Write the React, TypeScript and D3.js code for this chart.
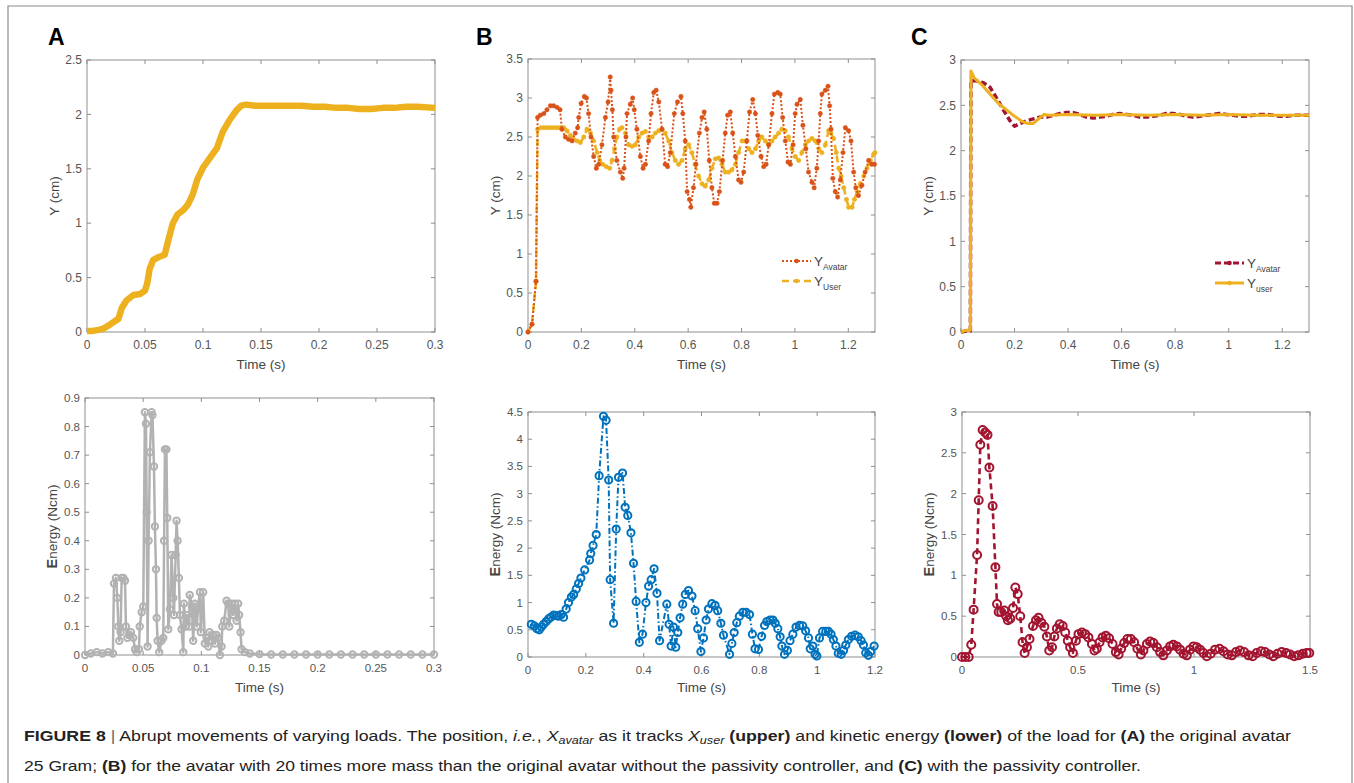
import { useEffect, useRef } from 'react';
import * as d3 from 'd3';

type Pt = [number, number];

// ---- Panel A (original avatar, 25 g) ----
const aPosition: Pt[] = [
  [0, 0.01], [0.005, 0.01], [0.01, 0.02], [0.014, 0.03], [0.02, 0.07], [0.024, 0.1], [0.027, 0.12],
  [0.03, 0.22], [0.034, 0.29], [0.04, 0.34], [0.046, 0.35], [0.05, 0.38], [0.052, 0.45], [0.054, 0.58],
  [0.057, 0.66], [0.062, 0.69], [0.067, 0.71], [0.07, 0.84], [0.074, 1.0], [0.078, 1.08], [0.083, 1.12],
  [0.087, 1.17], [0.091, 1.26], [0.095, 1.4], [0.1, 1.51], [0.106, 1.6], [0.112, 1.69], [0.117, 1.84],
  [0.123, 1.95], [0.129, 2.04], [0.133, 2.08], [0.137, 2.09], [0.145, 2.08], [0.155, 2.08], [0.165, 2.08],
  [0.175, 2.08], [0.185, 2.08], [0.195, 2.07], [0.205, 2.07], [0.215, 2.06], [0.225, 2.06], [0.235, 2.05],
  [0.245, 2.05], [0.255, 2.06], [0.265, 2.06], [0.275, 2.07], [0.285, 2.07], [0.3, 2.06],
];

const aEnergy: Pt[] = [
  [0, 0], [0.005, 0.005], [0.01, 0.01], [0.015, 0.005], [0.02, 0.01], [0.024, 0.005],
  [0.0249, 0.25], [0.0266, 0.27], [0.0278, 0.2], [0.0287, 0.1], [0.0295, 0.05], [0.0306, 0.08],
  [0.0315, 0.27], [0.033, 0.27], [0.0344, 0.26], [0.0352, 0.1], [0.0364, 0.06], [0.038, 0.07],
  [0.0395, 0.08], [0.0415, 0.06], [0.043, 0.02], [0.0444, 0.01], [0.0464, 0.02], [0.047, 0.1],
  [0.0487, 0.15], [0.0501, 0.17], [0.0515, 0.85], [0.0524, 0.81], [0.053, 0.5], [0.0538, 0.03],
  [0.0547, 0.4], [0.0558, 0.71], [0.0573, 0.85], [0.058, 0.84], [0.0593, 0.66], [0.0601, 0.45],
  [0.061, 0.3], [0.0616, 0.13], [0.0624, 0.05], [0.0638, 0.01], [0.0658, 0.05], [0.0673, 0.06],
  [0.068, 0.4], [0.0687, 0.72], [0.07, 0.72], [0.0707, 0.48], [0.0716, 0.09], [0.073, 0.16],
  [0.0744, 0.35], [0.0759, 0.2], [0.0765, 0.14], [0.0779, 0.35], [0.0787, 0.47], [0.0796, 0.4],
  [0.0807, 0.27], [0.0816, 0.14], [0.083, 0.09], [0.0845, 0.01], [0.085, 0.18], [0.0865, 0.1],
  [0.0879, 0.14], [0.0896, 0.1], [0.09, 0.21], [0.0919, 0.17], [0.093, 0.05], [0.0945, 0.18],
  [0.096, 0.1], [0.0973, 0.17], [0.0988, 0.22], [0.0996, 0.08], [0.1016, 0.22], [0.103, 0.04],
  [0.1045, 0.06], [0.106, 0.03], [0.107, 0.08], [0.109, 0.05], [0.11, 0.07], [0.1117, 0.04],
  [0.113, 0.07], [0.1145, 0.06], [0.116, 0.0], [0.1174, 0.03], [0.118, 0.1], [0.1197, 0.12],
  [0.1217, 0.19], [0.1231, 0.18], [0.124, 0.1], [0.126, 0.18], [0.1274, 0.14], [0.1288, 0.18],
  [0.1303, 0.12], [0.1317, 0.18], [0.1325, 0.14], [0.1337, 0.08], [0.1346, 0.02], [0.1374, 0.01],
  [0.1417, 0.005], [0.15, 0.003], [0.16, 0.002], [0.17, 0.002], [0.18, 0.002], [0.19, 0.002],
  [0.2, 0.002], [0.21, 0.002], [0.22, 0.002], [0.23, 0.002], [0.24, 0.002], [0.25, 0.002],
  [0.26, 0.002], [0.27, 0.002], [0.28, 0.002], [0.29, 0.002], [0.3, 0.002],
];

// ---- Panel B (20x mass, no passivity controller) ----
const bAvatar: Pt[] = [
  [0, 0], [0.015, 0.1], [0.03, 0.65], [0.036, 2.75], [0.046, 2.78], [0.059, 2.8], [0.071, 2.85],
  [0.084, 2.9], [0.096, 2.9], [0.109, 2.88], [0.12, 2.85], [0.127, 2.6], [0.14, 2.5], [0.152, 2.47],
  [0.165, 2.45], [0.177, 2.55], [0.186, 2.62], [0.19, 2.75], [0.199, 2.93], [0.211, 3.02], [0.219, 3.0],
  [0.227, 2.8], [0.236, 2.5], [0.246, 2.25], [0.256, 2.1], [0.265, 2.15], [0.277, 2.4], [0.29, 2.75],
  [0.3, 2.95], [0.308, 3.27], [0.311, 3.1], [0.316, 2.85], [0.321, 2.5], [0.333, 2.2], [0.346, 2.05],
  [0.355, 1.97], [0.36, 2.1], [0.367, 2.5], [0.371, 2.8], [0.383, 2.92], [0.392, 3.0], [0.398, 2.85],
  [0.408, 2.6], [0.421, 2.25], [0.431, 2.1], [0.44, 2.15], [0.452, 2.45], [0.461, 2.8], [0.471, 3.07],
  [0.48, 3.1], [0.49, 2.95], [0.502, 2.6], [0.514, 2.15], [0.523, 2.12], [0.533, 2.3], [0.548, 2.8],
  [0.56, 2.95], [0.573, 3.02], [0.58, 2.8], [0.589, 2.45], [0.596, 1.8], [0.605, 1.7], [0.61, 1.6],
  [0.62, 1.85], [0.629, 2.15], [0.642, 2.55], [0.652, 2.75], [0.66, 2.82], [0.67, 2.6], [0.679, 2.2],
  [0.689, 1.85], [0.698, 1.65], [0.708, 1.65], [0.717, 1.8], [0.729, 2.2], [0.739, 2.55], [0.748, 2.78],
  [0.758, 2.82], [0.767, 2.55], [0.777, 2.25], [0.789, 1.95], [0.798, 1.92], [0.808, 2.05], [0.82, 2.45],
  [0.83, 2.82], [0.842, 2.98], [0.852, 2.8], [0.861, 2.52], [0.873, 2.25], [0.883, 2.12], [0.892, 2.15],
  [0.902, 2.4], [0.914, 2.8], [0.923, 3.05], [0.936, 3.07], [0.945, 3.05], [0.954, 2.75], [0.964, 2.45],
  [0.974, 2.18], [0.983, 2.15], [0.993, 2.4], [1.001, 2.8], [1.008, 2.92], [1.02, 2.98], [1.03, 2.65],
  [1.041, 2.35], [1.051, 2.05], [1.064, 1.92], [1.072, 1.85], [1.082, 2.1], [1.089, 2.45], [1.095, 2.8],
  [1.101, 3.05], [1.114, 3.1], [1.124, 3.15], [1.13, 2.9], [1.135, 2.6], [1.142, 1.97], [1.151, 1.8],
  [1.16, 1.73], [1.17, 1.95], [1.18, 2.3], [1.189, 2.62], [1.201, 2.58], [1.21, 2.45], [1.22, 2.05],
  [1.228, 1.85], [1.238, 1.75], [1.251, 1.88], [1.263, 2.05], [1.276, 2.2], [1.288, 2.15], [1.298, 2.15],
];

const bUser: Pt[] = [
  [0, 0], [0.015, 0.1], [0.03, 0.65], [0.036, 2.6], [0.048, 2.62], [0.06, 2.62], [0.072, 2.62],
  [0.084, 2.62], [0.096, 2.62], [0.108, 2.62], [0.12, 2.62], [0.134, 2.62], [0.146, 2.58], [0.159, 2.52],
  [0.171, 2.47], [0.184, 2.45], [0.196, 2.43], [0.209, 2.5], [0.221, 2.6], [0.234, 2.55], [0.246, 2.45],
  [0.259, 2.3], [0.269, 2.2], [0.28, 2.15], [0.293, 2.12], [0.306, 2.1], [0.315, 2.2], [0.324, 2.35],
  [0.333, 2.5], [0.343, 2.6], [0.352, 2.62], [0.365, 2.55], [0.377, 2.4], [0.39, 2.38], [0.402, 2.4],
  [0.415, 2.5], [0.427, 2.55], [0.44, 2.57], [0.452, 2.5], [0.465, 2.5], [0.477, 2.55], [0.49, 2.58],
  [0.502, 2.6], [0.514, 2.55], [0.527, 2.45], [0.539, 2.3], [0.552, 2.2], [0.564, 2.15], [0.577, 2.2],
  [0.589, 2.35], [0.602, 2.4], [0.614, 2.3], [0.626, 2.15], [0.639, 2.0], [0.652, 1.9], [0.664, 1.87],
  [0.677, 1.95], [0.689, 2.1], [0.702, 2.22], [0.714, 2.23], [0.727, 2.15], [0.739, 2.05], [0.752, 2.05],
  [0.764, 2.08], [0.777, 2.15], [0.789, 2.3], [0.802, 2.45], [0.814, 2.45], [0.827, 2.35], [0.839, 2.3],
  [0.852, 2.35], [0.864, 2.45], [0.876, 2.5], [0.889, 2.45], [0.901, 2.4], [0.914, 2.45], [0.926, 2.5],
  [0.939, 2.55], [0.951, 2.6], [0.964, 2.58], [0.976, 2.5], [0.989, 2.35], [1.001, 2.25], [1.014, 2.2],
  [1.026, 2.3], [1.039, 2.4], [1.051, 2.45], [1.064, 2.48], [1.076, 2.45], [1.089, 2.35], [1.101, 2.3],
  [1.114, 2.4], [1.126, 2.58], [1.135, 2.55], [1.145, 2.48], [1.155, 2.3], [1.164, 2.1], [1.173, 2.0],
  [1.183, 1.85], [1.193, 1.7], [1.201, 1.6], [1.214, 1.6], [1.223, 1.7], [1.233, 1.8], [1.245, 1.9],
  [1.258, 2.0], [1.27, 2.1], [1.283, 2.2], [1.295, 2.28], [1.3, 2.3],
];

const bEnergy: Pt[] = [
  [0.0115, 0.6], [0.022, 0.57], [0.031, 0.52], [0.039, 0.5], [0.046, 0.55], [0.054, 0.6], [0.063, 0.65],
  [0.071, 0.7], [0.079, 0.73], [0.089, 0.77], [0.098, 0.76], [0.106, 0.75], [0.115, 0.78], [0.123, 0.73],
  [0.132, 0.88], [0.14, 1.0], [0.15, 1.1], [0.158, 1.15], [0.167, 1.25], [0.175, 1.35], [0.183, 1.45],
  [0.196, 1.6], [0.213, 1.78], [0.217, 1.9], [0.225, 2.05], [0.236, 2.25], [0.246, 3.33], [0.261, 4.42],
  [0.27, 4.35], [0.279, 3.25], [0.284, 1.42], [0.296, 0.62], [0.305, 2.35], [0.313, 3.3], [0.327, 3.38],
  [0.336, 2.75], [0.345, 2.6], [0.356, 2.28], [0.365, 1.72], [0.374, 1.02], [0.385, 0.27], [0.396, 0.42],
  [0.408, 1.0], [0.417, 1.3], [0.426, 1.42], [0.436, 1.62], [0.446, 1.17], [0.455, 0.3], [0.48, 0.97],
  [0.488, 0.6], [0.495, 0.2], [0.503, 0.55], [0.511, 0.18], [0.518, 0.45], [0.526, 0.72], [0.535, 0.97],
  [0.544, 1.15], [0.555, 1.22], [0.567, 1.12], [0.578, 0.85], [0.587, 0.52], [0.598, 0.1], [0.607, 0.35],
  [0.616, 0.68], [0.624, 0.88], [0.636, 0.98], [0.647, 0.95], [0.656, 0.85], [0.667, 0.62], [0.676, 0.4],
  [0.697, 0.05], [0.705, 0.25], [0.713, 0.45], [0.722, 0.63], [0.731, 0.75], [0.743, 0.82], [0.754, 0.82],
  [0.766, 0.78], [0.776, 0.42], [0.785, 0.15], [0.797, 0.14], [0.808, 0.38], [0.818, 0.58], [0.826, 0.65],
  [0.837, 0.68], [0.847, 0.68], [0.855, 0.62], [0.864, 0.52], [0.872, 0.37], [0.878, 0.2], [0.887, 0.05],
  [0.897, 0.12], [0.906, 0.3], [0.916, 0.42], [0.927, 0.55], [0.939, 0.58], [0.95, 0.57], [0.96, 0.48],
  [0.97, 0.35], [0.976, 0.15], [0.985, 0.2], [0.993, 0.05], [0.999, 0.02], [1.008, 0.35], [1.019, 0.47],
  [1.03, 0.47], [1.039, 0.47], [1.048, 0.42], [1.056, 0.32], [1.065, 0.2], [1.073, 0.07], [1.083, 0.05],
  [1.091, 0.12], [1.099, 0.22], [1.108, 0.32], [1.119, 0.38], [1.131, 0.4], [1.142, 0.37], [1.152, 0.3],
  [1.16, 0.22], [1.168, 0.08], [1.177, 0.03], [1.185, 0.1], [1.197, 0.2],
];

// ---- Panel C (20x mass, with passivity controller) ----
const cAvatar: Pt[] = [
  [0, 0], [0.02, 0.01], [0.035, 0.01], [0.037, 2.77], [0.058, 2.77], [0.083, 2.75], [0.108, 2.7],
  [0.133, 2.58], [0.158, 2.45], [0.183, 2.33], [0.2, 2.27], [0.22, 2.3], [0.245, 2.33], [0.27, 2.35],
  [0.295, 2.37], [0.32, 2.37], [0.345, 2.39], [0.37, 2.41], [0.394, 2.42], [0.419, 2.42], [0.444, 2.4],
  [0.469, 2.37], [0.494, 2.36], [0.519, 2.37], [0.544, 2.38], [0.568, 2.4], [0.593, 2.41], [0.618, 2.4],
  [0.643, 2.39], [0.668, 2.37], [0.693, 2.37], [0.718, 2.38], [0.743, 2.39], [0.767, 2.41], [0.792, 2.41],
  [0.817, 2.4], [0.842, 2.38], [0.867, 2.37], [0.892, 2.38], [0.917, 2.39], [0.942, 2.4], [0.966, 2.41],
  [0.991, 2.4], [1.016, 2.39], [1.041, 2.38], [1.066, 2.38], [1.091, 2.39], [1.116, 2.4], [1.141, 2.4],
  [1.166, 2.39], [1.19, 2.38], [1.215, 2.38], [1.24, 2.39], [1.265, 2.39], [1.3, 2.39],
];

const cUser: Pt[] = [
  [0, 0], [0.02, 0.02], [0.035, 0.02], [0.037, 2.88], [0.05, 2.8], [0.08, 2.72], [0.11, 2.62],
  [0.14, 2.52], [0.17, 2.45], [0.2, 2.38], [0.23, 2.32], [0.25, 2.3], [0.27, 2.3], [0.29, 2.35],
  [0.31, 2.4], [0.33, 2.39], [0.4, 2.4], [0.5, 2.39], [0.6, 2.4], [0.7, 2.39], [0.8, 2.4], [0.9, 2.39],
  [1.0, 2.4], [1.1, 2.39], [1.2, 2.39], [1.3, 2.39],
];

const cEnergy: Pt[] = [
  [0, 0], [0.014, 0.0], [0.029, 0.0], [0.04, 0.15], [0.05, 0.58], [0.065, 1.25], [0.072, 1.92],
  [0.079, 2.6], [0.089, 2.78], [0.1, 2.75], [0.11, 2.72], [0.118, 2.32], [0.132, 1.85], [0.144, 1.1],
  [0.151, 0.65], [0.158, 0.55], [0.169, 0.55], [0.182, 0.57], [0.191, 0.5], [0.198, 0.45], [0.208, 0.47],
  [0.22, 0.6], [0.23, 0.85], [0.24, 0.77], [0.251, 0.5], [0.261, 0.18], [0.27, 0.05], [0.28, 0.12],
  [0.291, 0.22], [0.306, 0.38], [0.319, 0.45], [0.33, 0.48], [0.342, 0.42], [0.355, 0.37], [0.366, 0.25],
  [0.376, 0.08], [0.388, 0.12], [0.398, 0.25], [0.409, 0.35], [0.421, 0.4], [0.434, 0.38], [0.445, 0.3],
  [0.456, 0.2], [0.466, 0.12], [0.478, 0.05], [0.491, 0.2], [0.502, 0.28], [0.517, 0.3], [0.531, 0.28],
  [0.545, 0.24], [0.56, 0.16], [0.571, 0.08], [0.581, 0.1], [0.593, 0.18], [0.606, 0.24], [0.62, 0.26],
  [0.634, 0.23], [0.649, 0.16], [0.663, 0.06], [0.675, 0.03], [0.686, 0.1], [0.699, 0.17], [0.713, 0.22],
  [0.728, 0.22], [0.742, 0.18], [0.756, 0.1], [0.771, 0.03], [0.782, 0.08], [0.797, 0.16], [0.811, 0.19],
  [0.825, 0.17], [0.84, 0.12], [0.854, 0.06], [0.868, 0.02], [0.883, 0.08], [0.897, 0.13], [0.911, 0.15],
  [0.926, 0.13], [0.94, 0.09], [0.955, 0.04], [0.969, 0.02], [0.983, 0.09], [0.998, 0.13], [1.012, 0.12],
  [1.026, 0.09], [1.041, 0.05], [1.055, 0.01], [1.072, 0.04], [1.091, 0.09], [1.11, 0.1], [1.127, 0.07],
  [1.145, 0.03], [1.163, 0.02], [1.181, 0.06], [1.198, 0.08], [1.216, 0.06], [1.235, 0.02], [1.253, 0.01],
  [1.27, 0.05], [1.289, 0.07], [1.306, 0.06], [1.325, 0.03], [1.342, 0.01], [1.36, 0.04], [1.378, 0.06],
  [1.397, 0.05], [1.414, 0.03], [1.432, 0.01], [1.45, 0.02], [1.469, 0.04], [1.486, 0.05], [1.497, 0.05],
];

// tick values
const ticksA_x = [0, 0.05, 0.1, 0.15, 0.2, 0.25, 0.3];
const ticksTop_x = [0, 0.2, 0.4, 0.6, 0.8, 1, 1.2];
const ticksC_bottom_x = [0, 0.5, 1, 1.5];
const ticksAPos_y = [0, 0.5, 1, 1.5, 2, 2.5];
const ticksBPos_y = [0, 0.5, 1, 1.5, 2, 2.5, 3, 3.5];
const ticksCPos_y = [0, 0.5, 1, 1.5, 2, 2.5, 3];
const ticksAEn_y = [0, 0.1, 0.2, 0.3, 0.4, 0.5, 0.6, 0.7, 0.8, 0.9];
const ticksBEn_y = [0, 0.5, 1, 1.5, 2, 2.5, 3, 3.5, 4, 4.5];

const ORANGE = '#EDB120';
const RED = '#D95319';
const DARKRED = '#A2142F';
const BLUE = '#0072BD';
const GRAY = '#B2B2B2';

type Series = {
  data: Pt[];
  color: string;
  width: number;
  dash?: string;
  marker?: 'dot' | 'circle';
  r?: number;
};

type Panel = {
  box: [number, number, number, number]; // left, right, top, bottom
  xDom: [number, number];
  yDom: [number, number];
  xTicks: number[];
  yTicks: number[];
  yLabel: 'pos' | 'energy';
  xLabelY: number;
  fs: number;
  series: Series[];
};

const panels: Panel[] = [
  {
    box: [87, 435, 60, 332], xDom: [0, 0.3], yDom: [0, 2.5], xTicks: ticksA_x, yTicks: ticksAPos_y,
    yLabel: 'pos', xLabelY: 369, fs: 12,
    series: [{ data: aPosition, color: ORANGE, width: 6.5 }],
  },
  {
    box: [528, 875, 59, 332], xDom: [0, 1.3], yDom: [0, 3.5], xTicks: ticksTop_x, yTicks: ticksBPos_y,
    yLabel: 'pos', xLabelY: 369, fs: 12,
    series: [
      { data: bUser, color: ORANGE, width: 2.6, dash: '7,4', marker: 'dot', r: 2.2 },
      { data: bAvatar, color: RED, width: 2, dash: '2,2', marker: 'dot', r: 2.2 },
    ],
  },
  {
    box: [961, 1309, 60, 332], xDom: [0, 1.3], yDom: [0, 3], xTicks: ticksTop_x, yTicks: ticksCPos_y,
    yLabel: 'pos', xLabelY: 369, fs: 12,
    series: [
      { data: cAvatar, color: DARKRED, width: 3.5, dash: '6,3' },
      { data: cUser, color: ORANGE, width: 3 },
    ],
  },
  {
    box: [85, 434, 398, 655], xDom: [0, 0.3], yDom: [0, 0.9], xTicks: ticksA_x, yTicks: ticksAEn_y,
    yLabel: 'energy', xLabelY: 692, fs: 11.5,
    series: [{ data: aEnergy, color: GRAY, width: 2.5, marker: 'circle', r: 3.2 }],
  },
  {
    box: [528, 875, 412, 657], xDom: [0, 1.2], yDom: [0, 4.5], xTicks: ticksTop_x, yTicks: ticksBEn_y,
    yLabel: 'energy', xLabelY: 692, fs: 11.5,
    series: [{ data: bEnergy, color: BLUE, width: 2, dash: '6,2.5,1.5,2.5', marker: 'circle', r: 3.6 }],
  },
  {
    box: [962, 1310, 412, 657], xDom: [0, 1.5], yDom: [0, 3], xTicks: ticksC_bottom_x, yTicks: ticksCPos_y,
    yLabel: 'energy', xLabelY: 692, fs: 11.5,
    series: [{ data: cEnergy, color: DARKRED, width: 2.6, dash: '6,4', marker: 'circle', r: 4 }],
  },
];

const fmt = (v: number) => String(+v.toFixed(2));

const FONT = 'Liberation Sans, Arial, Helvetica, sans-serif';

const PanelChart = ({ p }: { p: Panel }) => {
  const gRef = useRef<SVGGElement>(null);
  const [x0, x1, y0, y1] = p.box;

  useEffect(() => {
    const g = d3.select(gRef.current);
    g.selectAll('*').remove();

    const x = d3.scaleLinear().domain(p.xDom).range([x0, x1]);
    const y = d3.scaleLinear().domain(p.yDom).range([y1, y0]);

    // axes box
    g.append('rect')
      .attr('x', x0).attr('y', y0)
      .attr('width', x1 - x0).attr('height', y1 - y0)
      .attr('fill', '#fff').attr('stroke', '#8f8f8f').attr('stroke-width', 1);

    const tl = 4;
    // x ticks (inside, top and bottom)
    p.xTicks.forEach(t => {
      const xp = x(t);
      g.append('line').attr('x1', xp).attr('x2', xp).attr('y1', y1).attr('y2', y1 - tl)
        .attr('stroke', '#8f8f8f');
      g.append('line').attr('x1', xp).attr('x2', xp).attr('y1', y0).attr('y2', y0 + tl)
        .attr('stroke', '#8f8f8f');
      g.append('text').attr('x', xp).attr('y', y1 + 17)
        .attr('text-anchor', 'middle').attr('font-size', p.fs).attr('fill', '#555')
        .attr('font-family', FONT).text(fmt(t));
    });
    p.yTicks.forEach(t => {
      const yp = y(t);
      g.append('line').attr('x1', x0).attr('x2', x0 + tl).attr('y1', yp).attr('y2', yp)
        .attr('stroke', '#8f8f8f');
      g.append('line').attr('x1', x1).attr('x2', x1 - tl).attr('y1', yp).attr('y2', yp)
        .attr('stroke', '#8f8f8f');
      g.append('text').attr('x', x0 - 5).attr('y', yp).attr('dy', '0.35em')
        .attr('text-anchor', 'end').attr('font-size', p.fs).attr('fill', '#555')
        .attr('font-family', FONT).text(fmt(t));
    });

    // series
    const line = d3.line<Pt>().x(d => x(d[0])).y(d => y(d[1]));
    p.series.forEach(s => {
      g.append('path')
        .datum(s.data)
        .attr('d', line)
        .attr('fill', 'none')
        .attr('stroke', s.color)
        .attr('stroke-width', s.width)
        .attr('stroke-linejoin', 'round')
        .attr('stroke-dasharray', s.dash ?? null);
      if (s.marker) {
        g.append('g').selectAll('circle')
          .data(s.data)
          .join('circle')
          .attr('cx', d => x(d[0]))
          .attr('cy', d => y(d[1]))
          .attr('r', s.r ?? 2)
          .attr('fill', s.marker === 'dot' ? s.color : 'none')
          .attr('stroke', s.color)
          .attr('stroke-width', s.marker === 'dot' ? 0.5 : 2);
      }
    });

    // x label
    g.append('text')
      .attr('x', (x0 + x1) / 2).attr('y', p.xLabelY)
      .attr('text-anchor', 'middle').attr('font-size', 13.5).attr('fill', '#444')
      .attr('font-family', FONT).text('Time (s)');

    // y label
    const ly = g.append('text')
      .attr('transform', `translate(${x0 - 33},${(y0 + y1) / 2}) rotate(-90)`)
      .attr('dy', '0.35em')
      .attr('text-anchor', 'middle').attr('font-size', 13.5).attr('fill', '#444')
      .attr('font-family', FONT);
    if (p.yLabel === 'pos') {
      ly.text('Y (cm)');
    } else {
      ly.append('tspan').attr('font-weight', 'bold').attr('font-size', 14.5).text('E');
      ly.append('tspan').text('nergy (Ncm)');
    }
  }, [p]);

  return <g ref={gRef} />;
};

const Legend = ({ x, y, rows }: { x: number; y: number; rows: { color: string; dash?: string; w: number; sub: string }[] }) => (
  <g fontFamily={FONT}>
    {rows.map((r, i) => (
      <g key={i} transform={`translate(${x},${y + i * 20})`}>
        <line x1={0} x2={29} y1={0} y2={0} stroke={r.color} strokeWidth={r.w} strokeDasharray={r.dash} />
        <circle cx={14.5} cy={0} r={2.3} fill={r.color} />
        <text x={32} y={5} fontSize={13.5} fill="#444">
          Y<tspan fontSize={8.5} dy={4}>{r.sub}</tspan>
        </text>
      </g>
    ))}
  </g>
);

const App = () => {
  return (
    <svg width={1354} height={783} style={{ position: 'absolute', left: 0, top: 0, background: '#fff' }}>
      <rect x={0} y={0} width={1354} height={783} fill="#fff" />
      <path d="M8,783 V6 H1352 V783" fill="none" stroke="#8a8a8a" strokeWidth={1.2} />

      <g fontFamily={FONT} fontWeight="bold" fontSize={23} fill="#000">
        <text x={48} y={45}>A</text>
        <text x={476} y={45}>B</text>
        <text x={911} y={45}>C</text>
      </g>

      {panels.map((p, i) => <PanelChart key={i} p={p} />)}

      <Legend x={782} y={261} rows={[
        { color: RED, dash: '2,2', w: 2, sub: 'Avatar' },
        { color: ORANGE, dash: '7,4', w: 2.6, sub: 'User' },
      ]} />
      <Legend x={1215} y={263} rows={[
        { color: DARKRED, dash: '6,3', w: 3, sub: 'Avatar' },
        { color: ORANGE, w: 3, sub: 'user' },
      ]} />

      <g fontFamily={FONT} fontSize={15.5} fill="#222">
        <text x={24} y={741} textLength={1267} lengthAdjust="spacingAndGlyphs">
          <tspan fontWeight="bold">FIGURE 8</tspan>
          <tspan fill="#666"> | </tspan>
          <tspan>Abrupt movements of varying loads. The position, </tspan>
          <tspan fontStyle="italic">i.e.</tspan>
          <tspan>, </tspan>
          <tspan fontStyle="italic">X</tspan>
          <tspan fontStyle="italic" fontSize={11} dy={3}>avatar</tspan>
          <tspan dy={-3}> as it tracks </tspan>
          <tspan fontStyle="italic">X</tspan>
          <tspan fontStyle="italic" fontSize={11} dy={3}>user</tspan>
          <tspan dy={-3}> </tspan>
          <tspan fontWeight="bold">(upper)</tspan>
          <tspan> and kinetic energy </tspan>
          <tspan fontWeight="bold">(lower)</tspan>
          <tspan> of the load for </tspan>
          <tspan fontWeight="bold">(A)</tspan>
          <tspan> the original avatar</tspan>
        </text>
        <text x={24} y={771} textLength={1117} lengthAdjust="spacingAndGlyphs">
          <tspan>25 Gram; </tspan>
          <tspan fontWeight="bold">(B)</tspan>
          <tspan> for the avatar with 20 times more mass than the original avatar without the passivity controller, and </tspan>
          <tspan fontWeight="bold">(C)</tspan>
          <tspan> with the passivity controller.</tspan>
        </text>
      </g>
    </svg>
  );
};

export default App;
